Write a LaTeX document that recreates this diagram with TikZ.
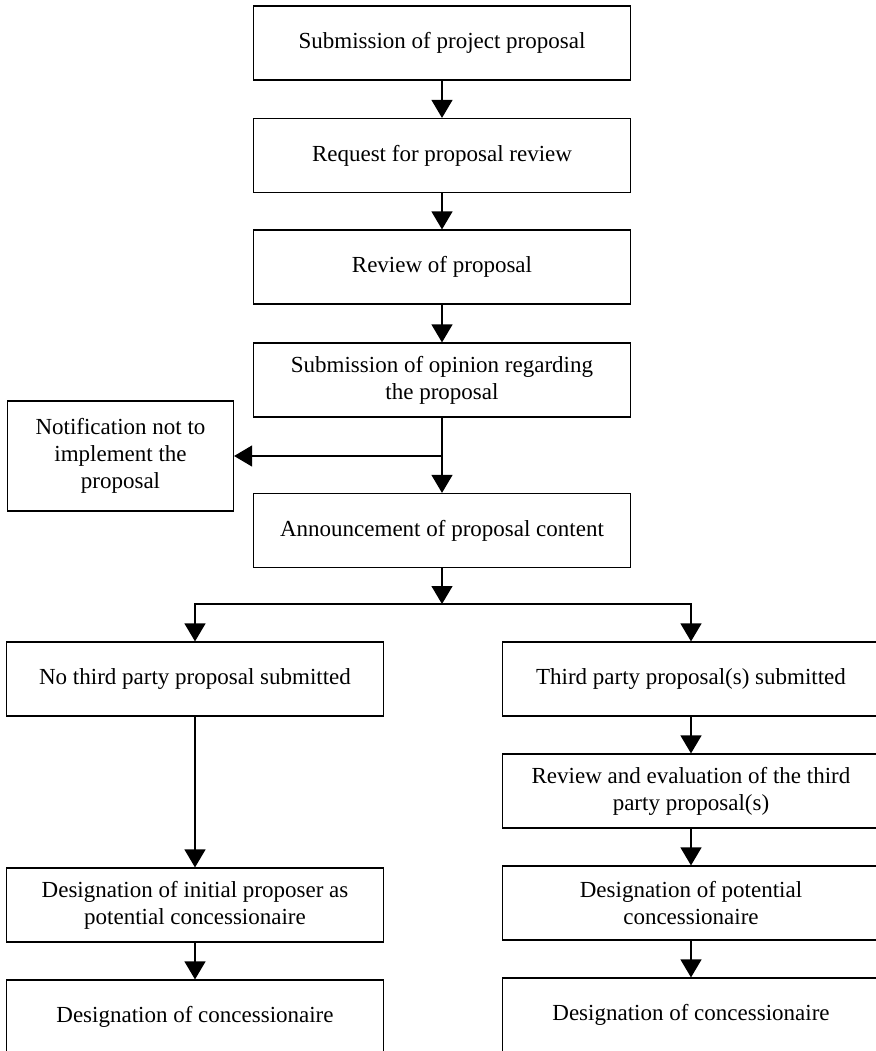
\documentclass[tikz,border=0pt]{standalone}
\usepackage{fontspec}
\setmainfont{Liberation Serif}
\usetikzlibrary{positioning, calc, arrows.meta}
\tikzset{pixgrid/.style={x=0.5pt, y=-0.5pt}}
\tikzset{pstep/.style={draw, line width=0.6pt, minimum width=188.5pt, minimum height=37pt, inner sep=2pt, align=center, font=\fontsize{11.5}{13.4}\selectfont}}
\tikzset{pnote/.style={pstep, minimum width=113pt, minimum height=55pt}}
\tikzset{arr/.style={draw, line width=0.6pt, -{Triangle[length=9pt, width=10.5pt]}}}

\begin{document}
\begin{tikzpicture}[pixgrid]
    \useasboundingbox (0,0) rectangle (876,1051);
    %
    \node[pstep] (sub) at (442,43) {Submission of project proposal};
    \node[pstep] (req) at (442,155.5) {Request for proposal review};
    \node[pstep] (rev) at (442,267) {Review of proposal};
    \node[pstep] (opin) at (442,380) {Submission of opinion regarding\\the proposal};
    \node[pnote] (notif) at (120.5,456) {Notification not to\\implement the\\proposal};
    \node[pstep] (ann) at (442,530.5) {Announcement of proposal content};
    %
    \node[pstep] (none) at (195,679) {No third party proposal submitted};
    \node[pstep] (init) at (195,905) {Designation of initial proposer as\\potential concessionaire};
    \node[pstep] (concl) at (195,1017) {Designation of concessionaire};
    %
    \node[pstep] (third) at (691,679) {Third party proposal(s) submitted};
    \node[pstep] (eval) at (691,791) {Review and evaluation of the third\\party proposal(s)};
    \node[pstep] (pot) at (691,903) {Designation of potential\\concessionaire};
    \node[pstep] (concr) at (691,1015) {Designation of concessionaire};
    %
    \draw[arr] (sub) to (req);
    \draw[arr] (req) to (rev);
    \draw[arr] (rev) to (opin);
    \draw[arr] (opin) to (ann);
    \draw[arr] (opin.south |- notif.east) to (notif);
    %
    \coordinate (split) at (442,604);
    \draw[arr] (ann) to (split);
    \draw[arr] (split) -| (none);
    \draw[arr] (split) -| (third);
    %
    \draw[arr] (none) to (init);
    \draw[arr] (init) to (concl);
    \draw[arr] (third) to (eval);
    \draw[arr] (eval) to (pot);
    \draw[arr] (pot) to (concr);
    %
\end{tikzpicture}
\end{document}
